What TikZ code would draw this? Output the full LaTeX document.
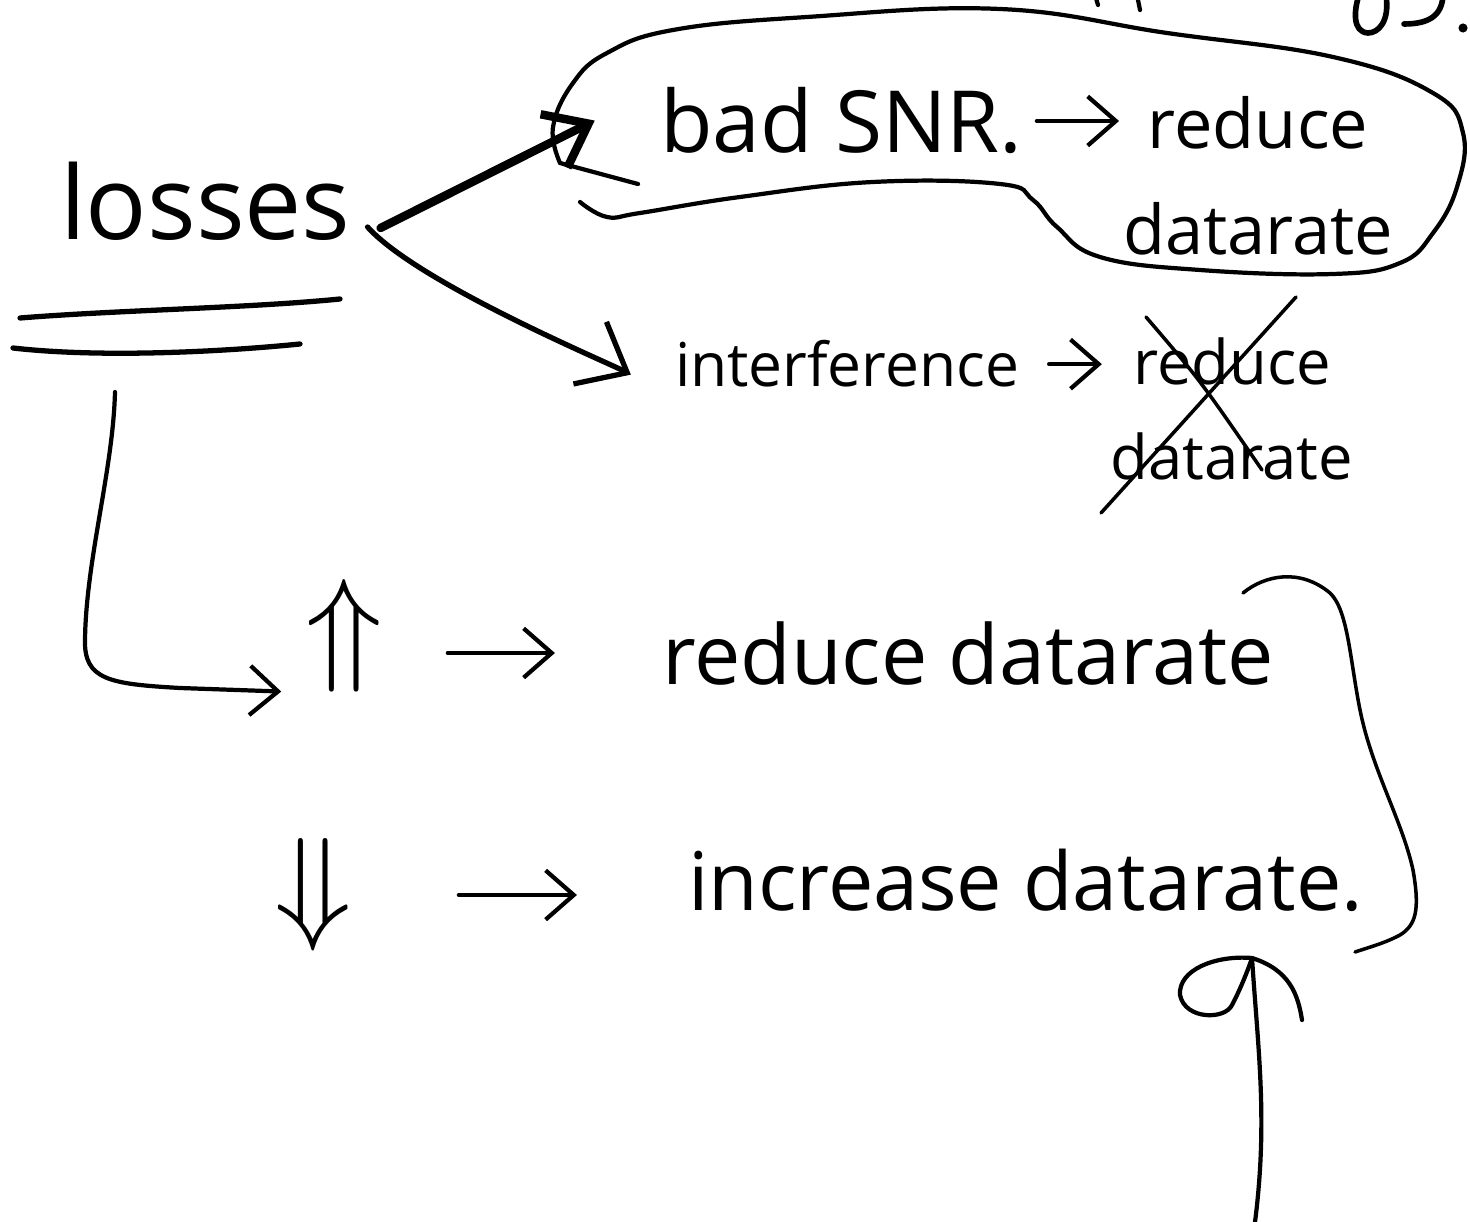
\documentclass[tikz,border=0pt]{standalone}
\usepackage{amsmath}
\usepackage{fontspec}
\setmainfont{Open Sans}
\usetikzlibrary{arrows.meta,positioning,calc}

\tikzset{
  ink/.style={line width=1.2pt, line cap=round, line join=round},
  word/.style={inner sep=0pt, outer sep=0pt},
  flow/.style={ink, -{Straight Barb[length=8pt,width=14pt]}},
  boldflow/.style={ink, line width=2.4pt, -{Straight Barb[length=11pt,width=17pt]}},
}

\begin{document}
\begin{tikzpicture}[x=0.01cm, y=-0.01cm]
\fill[white] (0,0) rectangle (1470,1222);
\useasboundingbox (0,0) rectangle (1470,1222);
\clip (0,0) rectangle (1470,1222);

\node[word, anchor=base west, font=\fontsize{29}{34}\selectfont] (losses) at (60,240) {losses};
\node[word, anchor=base west, font=\fontsize{24.4}{30}\selectfont] (snr) at (660,153) {bad SNR.};
\node[word, align=center, font=\fontsize{19.5}{30}\selectfont] (act1) at (1258,176) {reduce\\datarate};
\node[word, anchor=base west, font=\fontsize{17.2}{22}\selectfont] (ifr) at (675,387) {interference};
\node[word, align=center, font=\fontsize{17.5}{27}\selectfont] (act2) at (1232,409) {reduce\\datarate};
\node[word, font=\fontsize{34}{40}\selectfont] (up) at (344,636) {\scalebox{1.45}{$\Uparrow$}};
\node[word, font=\fontsize{34}{40}\selectfont] (down) at (313,895) {\scalebox{1.45}{$\Downarrow$}};
\node[word, anchor=base west, font=\fontsize{23.5}{28}\selectfont] (act3) at (662,684) {reduce datarate};
\node[word, anchor=base west, font=\fontsize{23}{28}\selectfont] (act4) at (688,910) {increase datarate.};
\coordinate (turn) at (115,392);
\coordinate (feed) at (1255,1222);
\coordinate (foot) at (1252,958);

% Connect nodes
\draw[boldflow, shorten >=0.73cm] ($(losses.base east)+(30,-12)$) -- (snr.north west);
\draw[ink, line width=1.5pt, -{Straight Barb[length=12pt,width=20pt]}, shorten >=0.5cm] ($(losses.base east)+(17,-13)$) to[out=-48,in=152,looseness=0.55] ([yshift=-3pt]ifr.south west);
\draw[flow, shorten <=0.14cm, shorten >=0.04cm] (snr.east) -- (snr.east -| act1.west);
\draw[flow, shorten <=0.3cm, shorten >=0.09cm] (ifr.east) -- (ifr.east -| act2.west);
\draw[flow, shorten <=0.65cm, shorten >=1.07cm] (act3.west -| up.east) -- (act3.west);
\draw[flow, shorten <=1.07cm, shorten >=1.11cm] (down.east) -- (down.east -| act4.west);
\draw[flow, shorten >=0.24cm] (turn) .. controls (113,470) and (86,560) .. (85,640) .. controls (84,680) and (110,684) .. (180,688) -- (up.south west);
\draw[ink] (feed) .. controls (1268,1120) and (1258,1050) .. (foot);
%\draw[flow] (feed) -- (foot);
\draw[ink] (foot) .. controls (1215,955) and (1178,970) .. (1180,995) .. controls (1185,1020) and (1225,1020) .. (1232,1005) .. controls (1240,990) and (1248,970) .. (foot);
\draw[ink] (foot) .. controls (1290,970) and (1298,995) .. (1302,1020);

% add underlines, cross and bracket
\draw[ink, line width=1.5pt] (20,318) .. controls (120,310) and (250,308) .. (340,299);
\draw[ink, line width=1.5pt] (13,348) .. controls (100,358) and (220,352) .. (300,344);
\draw[ink, line width=1pt] (1101,513) -- (1296,297);
\draw[ink, line width=1pt] (1146,317) .. controls (1200,380) .. (1262,470);
\draw[ink, line width=1pt] (1243,593) .. controls (1265,575) and (1300,568) .. (1330,593) .. controls (1348,610) and (1350,660) .. (1360,710) .. controls (1372,770) and (1402,820) .. (1413,870) .. controls (1420,910) and (1416,925) .. (1400,935) .. controls (1385,943) and (1370,947) .. (1355,952);

% add bubble round the first remedy
\draw[ink] (638,184) -- (560,163);
\draw[ink] plot[smooth, tension=0.7] coordinates {(560,163) (553,127) (573,83) (607,53) (673,30) (807,17) (1000,9) (1167,33) (1333,57) (1433,93) (1463,133) (1457,187) (1433,233) (1400,263) (1333,274) (1200,270) (1100,257) (1057,227) (1033,200) (1000,184) (873,182) (740,197) (640,213) (607,217) (580,202)};

% cut-off strokes at the top edge
\draw[ink] (1095,-5) -- (1098,5);
\draw[ink] (1137,-5) -- (1140,10);
\draw[ink, line width=1.6pt] (1386,-5) .. controls (1390,22) and (1378,33) .. (1368,33) .. controls (1352,32) and (1354,10) .. (1359,-5);
\draw[ink, line width=1.6pt] (1443,-5) .. controls (1442,15) and (1430,24) .. (1404,24);
\fill (1463,28) circle[radius=1.3pt];
\end{tikzpicture}
\end{document}
